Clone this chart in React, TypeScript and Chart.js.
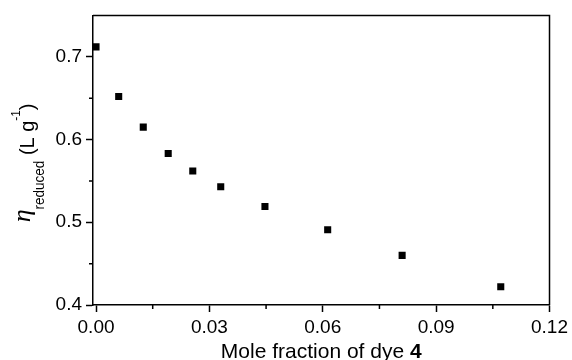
import React, { useEffect, useRef } from 'react';
import { Chart, registerables } from 'chart.js';

Chart.register(...registerables);

// Data
const MOLE_FRACTION = [0.0, 0.006, 0.0125, 0.0191, 0.0256, 0.033, 0.0447, 0.0613, 0.081, 0.1071];
const ETA_REDUCED = [0.712, 0.652, 0.615, 0.583, 0.562, 0.543, 0.519, 0.491, 0.46, 0.422];

const X_MAJOR = [0, 0.03, 0.06, 0.09, 0.12];
const X_MINOR = [0.015, 0.045, 0.075, 0.105];
const Y_MAJOR = [0.4, 0.5, 0.6, 0.7];
const Y_MINOR = [0.45, 0.55, 0.65];

const X_TITLE = 'Mole fraction of dye ';
const X_TITLE_BOLD = '4';
const Y_SYMBOL = 'η';
const Y_SUB = 'reduced';
const Y_UNIT = ' (L g';
const Y_SUP = '-1';
const Y_CLOSE = ')';

const SANS = '"Liberation Sans", Arial, sans-serif';
const SERIF = '"Liberation Serif", "Times New Roman", serif';

const framePlugin = {
  id: 'frameAndTitles',
  afterDraw(chart: any) {
    const { ctx, chartArea } = chart;
    const { left, right, top, bottom } = chartArea;
    const xs = chart.scales.x;
    const ys = chart.scales.y;
    ctx.save();
    ctx.strokeStyle = '#000';
    ctx.lineWidth = 1.5;
    // top and right frame lines
    ctx.beginPath();
    ctx.moveTo(left, top);
    ctx.lineTo(right, top);
    ctx.lineTo(right, bottom);
    ctx.stroke();
    // minor ticks
    ctx.beginPath();
    for (const v of X_MINOR) {
      const px = xs.getPixelForValue(v);
      ctx.moveTo(px, bottom);
      ctx.lineTo(px, bottom + 4);
    }
    for (const v of Y_MINOR) {
      const py = ys.getPixelForValue(v);
      ctx.moveTo(left, py);
      ctx.lineTo(left - 4, py);
    }
    ctx.stroke();

    ctx.fillStyle = '#000';
    ctx.textBaseline = 'alphabetic';
    ctx.textAlign = 'left';
    // x title
    ctx.font = `21px ${SANS}`;
    const w1 = ctx.measureText(X_TITLE).width;
    ctx.font = `bold 21px ${SANS}`;
    const w2 = ctx.measureText(X_TITLE_BOLD).width;
    const cx = (left + right) / 2;
    const sx = cx - (w1 + w2) / 2;
    const by = 358;
    ctx.font = `21px ${SANS}`;
    ctx.fillText(X_TITLE, sx, by);
    ctx.font = `bold 21px ${SANS}`;
    ctx.fillText(X_TITLE_BOLD, sx + w1, by);

    // y title (rotated), parts with their own size, squeeze and baseline shift
    const parts = [
      { t: Y_SYMBOL, f: `italic 26px ${SERIF}`, dy: -4, k: 1 },
      { t: Y_SUB, f: `15px ${SANS}`, dy: 10, k: 0.9 },
      { t: Y_UNIT, f: `21px ${SANS}`, dy: 0, k: 0.95 },
      { t: Y_SUP, f: `13px ${SANS}`, dy: -14, k: 0.9 },
      { t: Y_CLOSE, f: `21px ${SANS}`, dy: 0, k: 0.95 },
    ];
    let total = 0;
    const widths = parts.map((p) => {
      ctx.font = p.f;
      const w = ctx.measureText(p.t).width * p.k;
      total += w;
      return w;
    });
    const cy = 163;
    ctx.translate(34, cy + total / 2);
    ctx.rotate(-Math.PI / 2);
    let pos = 0;
    parts.forEach((p, i) => {
      ctx.save();
      ctx.font = p.f;
      ctx.translate(pos, p.dy);
      ctx.scale(p.k, 1);
      ctx.fillText(p.t, 0, 0);
      ctx.restore();
      pos += widths[i];
    });
    ctx.restore();
  },
};

export default function App() {
  const canvasRef = useRef<HTMLCanvasElement | null>(null);

  useEffect(() => {
    const canvas = canvasRef.current;
    if (!canvas) return;
    const points = MOLE_FRACTION.map((x, i) => ({ x, y: ETA_REDUCED[i] }));
    const chart = new Chart(canvas, {
      type: 'scatter',
      data: {
        datasets: [
          {
            data: points,
            pointStyle: 'rect',
            pointRadius: 5,
            pointHoverRadius: 5,
            backgroundColor: '#000',
            borderColor: '#000',
            borderWidth: 0,
            showLine: false,
          },
        ],
      },
      options: {
        animation: false,
        responsive: false,
        maintainAspectRatio: false,
        events: [],
        layout: { padding: { top: 14, right: 20, left: 0, bottom: 0 } },
        plugins: {
          legend: { display: false },
          tooltip: { enabled: false },
          title: { display: false },
        },
        scales: {
          x: {
            type: 'linear',
            min: -0.0008,
            max: 0.12,
            afterBuildTicks: (s: any) => {
              s.ticks = X_MAJOR.map((value) => ({ value }));
            },
            afterFit: (s: any) => {
              s.height = 55;
            },
            ticks: {
              color: '#000',
              font: { family: SANS, size: 19 },
              padding: 4,
              maxRotation: 0,
              autoSkip: false,
              callback: (v: any) => Number(v).toFixed(2),
            },
            grid: {
              display: true,
              drawOnChartArea: false,
              drawTicks: true,
              tickLength: 7,
              tickColor: '#000',
              tickWidth: 1.5,
            },
            border: { display: true, color: '#000', width: 1.5 },
          },
          y: {
            type: 'linear',
            min: 0.4,
            max: 0.75,
            afterBuildTicks: (s: any) => {
              s.ticks = Y_MAJOR.map((value) => ({ value }));
            },
            afterFit: (s: any) => {
              s.width = 93;
            },
            ticks: {
              color: '#000',
              font: { family: SANS, size: 19 },
              padding: 4,
              autoSkip: false,
              callback: (v: any) => Number(v).toFixed(1),
            },
            grid: {
              display: true,
              drawOnChartArea: false,
              drawTicks: true,
              tickLength: 7,
              tickColor: '#000',
              tickWidth: 1.5,
            },
            border: { display: true, color: '#000', width: 1.5 },
          },
        },
      },
      plugins: [framePlugin],
    });
    return () => chart.destroy();
  }, []);

  return (
    <div style={{ position: 'fixed', left: 0, top: 0, width: 572, height: 360, background: '#fff' }}>
      <canvas ref={canvasRef} width={572} height={360} style={{ width: 572, height: 360 }} />
    </div>
  );
}
